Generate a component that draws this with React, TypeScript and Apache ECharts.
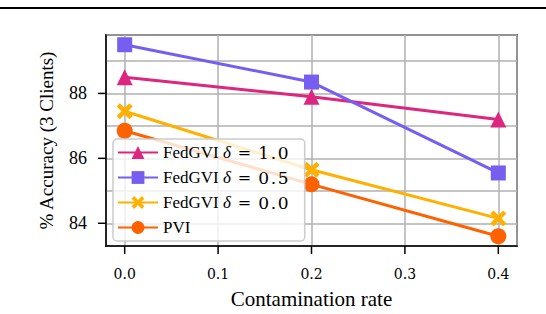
import React, { useEffect, useRef } from "react";
import * as echarts from "echarts";

const contamination = [0.0, 0.2, 0.4];
const fedgvi10 = [88.5, 87.9, 87.2];
const fedgvi05 = [89.5, 88.35, 85.55];
const fedgvi00 = [87.45, 85.65, 84.15];
const pvi = [86.85, 85.2, 83.6];
const xTicks = [0.0, 0.1, 0.2, 0.3, 0.4];
const yTicks = [84, 86, 88];
const seriesNames = ["FedGVI δ = 1.0", "FedGVI δ = 0.5", "FedGVI δ = 0.0", "PVI"];

const X_MIN = -0.02;
const X_MAX = 0.42;
const Y_MIN = 83.3;
const Y_MAX = 89.8;

const X_PATH = "path://M0,2 L2,0 L5,3 L8,0 L10,2 L7,5 L10,8 L8,10 L5,7 L2,10 L0,8 L3,5 Z";
const SERIF = "Liberation Serif";
const TICKFONT = "DejaVu Serif";
const TICK_LEN = 8;

export default function App() {
  const ref = useRef<HTMLDivElement>(null);
  useEffect(() => {
    const chart = echarts.init(ref.current!, null, { renderer: "svg" });
    const mk = (name: string, data: number[], color: string, symbol: string, size: number) => ({
      name,
      type: "line",
      data: contamination.map((x, i) => [x, data[i]]),
      symbol,
      symbolSize: size,
      lineStyle: { color, width: 3 },
      itemStyle: { color, borderColor: color, borderWidth: 0 },
      emphasis: { disabled: true },
    });
    chart.setOption({
      animation: false,
      grid: { left: 106, right: 29, top: 35, bottom: 65, show: true, borderColor: "#000", borderWidth: 1.5 },
      xAxis: {
        type: "value",
        min: X_MIN,
        max: X_MAX,
        name: "Contamination rate",
        nameLocation: "middle",
        nameGap: 42,
        nameTextStyle: { fontFamily: SERIF, fontSize: 21, color: "#000" },
        axisLine: { show: true, onZero: false, lineStyle: { color: "#000", width: 1.5 } },
        axisTick: { show: false },
        axisLabel: {
          customValues: xTicks,
          formatter: (v: number) => v.toFixed(1),
          fontFamily: TICKFONT,
          fontSize: 14,
          color: "#000",
          margin: 21,
        },
        splitLine: { show: true, lineStyle: { color: "#b0b0b0", width: 1.5 } },
      },
      yAxis: {
        type: "value",
        min: Y_MIN,
        max: Y_MAX,
        name: "% Accuracy (3 Clients)",
        nameLocation: "middle",
        nameGap: 50,
        nameTextStyle: { fontFamily: SERIF, fontSize: 19, color: "#000" },
        axisLine: { show: true, onZero: false, lineStyle: { color: "#000", width: 1.5 } },
        axisTick: { show: false },
        axisLabel: {
          customValues: yTicks,
          formatter: (v: number) => String(v),
          fontFamily: SERIF,
          fontSize: 18,
          color: "#000",
          margin: 19,
        },
        splitLine: { show: true, lineStyle: { color: "#b0b0b0", width: 1.5 } },
      },
      legend: {
        orient: "vertical",
        left: 113,
        top: 139,
        itemWidth: 40,
        itemHeight: 16,
        itemGap: 8,
        padding: [5, 16, 5, 4],
        backgroundColor: "rgba(255,255,255,0.8)",
        borderColor: "#cccccc",
        borderWidth: 1.5,
        borderRadius: 4,
        data: seriesNames,
        formatter: (name: string) => {
          if (name.indexOf("δ") >= 0) {
            const parts = name.split("δ");
            const num = parts[1].replace("=", "").trim().split("").join("\u200A");
            return `{a|${parts[0]}}{d|δ}{e|=}{n|${num}}`;
          }
          return `{a|${name}}`;
        },
        textStyle: {
          rich: {
            a: { fontFamily: SERIF, fontSize: 17, color: "#000" },
            d: { fontFamily: SERIF, fontSize: 17, fontStyle: "italic", color: "#000" },
            e: { fontFamily: TICKFONT, fontSize: 16, color: "#000", padding: [0, 7, 0, 7] },
            n: { fontFamily: TICKFONT, fontSize: 17, color: "#000" },
          },
        },
      },
      series: [
        mk(seriesNames[0], fedgvi10, "#DC267F", "triangle", 16),
        mk(seriesNames[1], fedgvi05, "#785EF0", "rect", 15),
        mk(seriesNames[2], fedgvi00, "#FFB000", X_PATH, 16),
        mk(seriesNames[3], pvi, "#FE6100", "circle", 16),
      ],
    });
    const ticks: any[] = [];
    xTicks.forEach((v) => {
      const p = chart.convertToPixel({ gridIndex: 0 }, [v, Y_MIN]) as number[];
      ticks.push({
        type: "rect",
        shape: { x: p[0] - 0.75, y: p[1], width: 1.5, height: TICK_LEN },
        style: { fill: "#000" },
        z: 100,
      });
    });
    yTicks.forEach((v) => {
      const p = chart.convertToPixel({ gridIndex: 0 }, [X_MIN, v]) as number[];
      ticks.push({
        type: "rect",
        shape: { x: p[0] - TICK_LEN, y: p[1] - 0.75, width: TICK_LEN, height: 1.5 },
        style: { fill: "#000" },
        z: 100,
      });
    });
    chart.setOption({
      graphic: {
        elements: [
          { type: "rect", shape: { x: 0, y: 7, width: 546, height: 2 }, style: { fill: "#000" } },
          ...ticks,
        ],
      },
    });
    return () => chart.dispose();
  }, []);
  return <div ref={ref} style={{ width: 546, height: 314, position: "absolute", left: 0, top: 0 }} />;
}
